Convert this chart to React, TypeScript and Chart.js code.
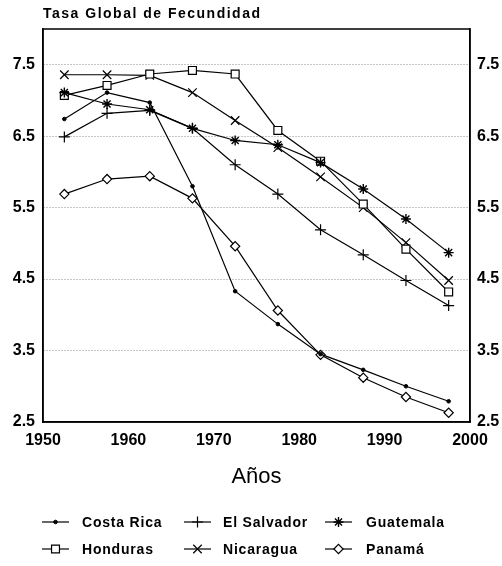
import React, { useEffect, useRef } from 'react';
import { Chart, registerables } from 'chart.js';
import { drawPoint } from 'chart.js/helpers';

Chart.register(...registerables);

const titleText = 'Tasa Global de Fecundidad';
const xTitle = 'Años';
const years = [1952.5, 1957.5, 1962.5, 1967.5, 1972.5, 1977.5, 1982.5, 1987.5, 1992.5, 1997.5];
const costaRica = [6.74, 7.11, 6.97, 5.8, 4.33, 3.87, 3.45, 3.23, 3.0, 2.79];
const elSalvador = [6.49, 6.82, 6.86, 6.61, 6.1, 5.69, 5.19, 4.84, 4.48, 4.13];
const guatemala = [7.11, 6.95, 6.87, 6.61, 6.44, 6.38, 6.13, 5.76, 5.34, 4.87];
const honduras = [7.07, 7.21, 7.37, 7.42, 7.37, 6.58, 6.15, 5.55, 4.92, 4.32];
const nicaragua = [7.36, 7.36, 7.35, 7.11, 6.72, 6.34, 5.93, 5.5, 5.01, 4.48];
const panama = [5.69, 5.9, 5.94, 5.63, 4.96, 4.06, 3.44, 3.12, 2.85, 2.63];
const seriesNames = ['Costa Rica', 'El Salvador', 'Guatemala', 'Honduras', 'Nicaragua', 'Panamá'];
const yTicks = [2.5, 3.5, 4.5, 5.5, 6.5, 7.5];
const xTicks = [1950, 1960, 1970, 1980, 1990, 2000];

const FONT = '"Liberation Sans", Arial, Helvetica, sans-serif';

const styles = [
  { pointStyle: 'circle', radius: 1.8, bg: '#000', bw: 1 },
  { pointStyle: 'cross', radius: 5.5, bg: '#fff', bw: 1.2 },
  { pointStyle: 'star', radius: 5, bg: '#fff', bw: 1.4 },
  { pointStyle: 'rect', radius: 5.6, bg: '#fff', bw: 1.2 },
  { pointStyle: 'crossRot', radius: 6, bg: '#fff', bw: 1.2 },
  { pointStyle: 'rectRot', radius: 4.6, bg: '#fff', bw: 1.2 },
];

const frameAndText = {
  id: 'frameAndText',
  afterDraw(chart: any) {
    const { ctx, chartArea } = chart;
    ctx.save();
    ctx.strokeStyle = '#000';
    ctx.lineWidth = 1.5;
    ctx.strokeRect(chartArea.left, chartArea.top, chartArea.right - chartArea.left, chartArea.bottom - chartArea.top);

    // title
    ctx.fillStyle = '#000';
    ctx.font = `bold 14px ${FONT}`;
    (ctx as any).letterSpacing = '1.5px';
    ctx.textAlign = 'left';
    ctx.textBaseline = 'alphabetic';
    ctx.fillText(titleText, 43, 18);

    // legend
    const colLine = [42, 184, 325];
    const colText = [82, 223, 366];
    const rows = [522, 549];
    (ctx as any).letterSpacing = '0.8px';
    ctx.font = `bold 14px ${FONT}`;
    ctx.textBaseline = 'middle';
    chart.data.datasets.forEach((ds: any, i: number) => {
      const c = i % 3;
      const r = Math.floor(i / 3);
      const y = rows[r];
      ctx.strokeStyle = '#000';
      ctx.lineWidth = 1.2;
      ctx.beginPath();
      ctx.moveTo(colLine[c], y);
      ctx.lineTo(colLine[c] + 27, y);
      ctx.stroke();
      ctx.fillStyle = ds.pointBackgroundColor;
      ctx.lineWidth = ds.pointBorderWidth;
      drawPoint(ctx, { pointStyle: ds.pointStyle, radius: ds.pointRadius, borderWidth: ds.pointBorderWidth, rotation: 0 } as any, colLine[c] + 13.5, y);
      ctx.fillStyle = '#000';
      ctx.fillText(ds.label, colText[c], y + 1);
    });
    ctx.restore();
  },
};

export default function App() {
  const ref = useRef<HTMLCanvasElement>(null);
  useEffect(() => {
    if (!ref.current) return;
    const series = [costaRica, elSalvador, guatemala, honduras, nicaragua, panama];
    const chart = new Chart(ref.current, {
      type: 'line',
      data: {
        datasets: series.map((vals, i) => ({
          label: seriesNames[i],
          data: vals.map((v, j) => ({ x: years[j], y: v })),
          borderColor: '#000',
          borderWidth: 1.2,
          tension: 0,
          fill: false,
          pointStyle: styles[i].pointStyle as any,
          pointRadius: styles[i].radius,
          pointBackgroundColor: styles[i].bg,
          pointBorderColor: '#000',
          pointBorderWidth: styles[i].bw,
          yAxisID: 'y',
        })),
      },
      plugins: [frameAndText],
      options: {
        responsive: false,
        animation: false,
        devicePixelRatio: 1,
        layout: { padding: { top: 29, left: 0, right: 0, bottom: 76 } },
        plugins: { legend: { display: false }, tooltip: { enabled: false }, title: { display: false } },
        scales: {
          x: {
            type: 'linear',
            min: 1950,
            max: 2000,
            afterBuildTicks: (s: any) => { s.ticks = xTicks.map((v) => ({ value: v })); },
            afterFit: (s: any) => { s.height = 68; },
            grid: { display: false, drawTicks: false },
            border: { display: true, color: '#000', width: 1.5 },
            ticks: { color: '#000', padding: 9, font: { family: FONT, size: 16, weight: 'bold' }, maxRotation: 0, callback: (v: any) => String(v) },
            title: { display: true, text: xTitle, color: '#000', padding: { top: 0, bottom: 0 }, font: { family: FONT, size: 22, weight: 'normal' } },
          },
          y: {
            type: 'linear',
            position: 'left',
            min: 2.5,
            max: 8.0,
            afterBuildTicks: (s: any) => { s.ticks = yTicks.map((v) => ({ value: v })); },
            afterFit: (s: any) => { s.width = 43; },
            grid: { display: true, drawTicks: false, color: '#8a8a8a', lineWidth: 1 },
            border: { display: true, color: '#000', width: 1.5, dash: [1, 2] },
            ticks: { color: '#000', padding: 8, font: { family: FONT, size: 16, weight: 'bold' }, callback: (v: any) => Number(v).toFixed(1) },
          },
          y2: {
            type: 'linear',
            position: 'right',
            min: 2.5,
            max: 8.0,
            afterBuildTicks: (s: any) => { s.ticks = yTicks.map((v) => ({ value: v })); },
            afterFit: (s: any) => { s.width = 32; },
            grid: { display: false, drawTicks: false },
            border: { display: true, color: '#000', width: 1.5 },
            ticks: { color: '#000', padding: 7, font: { family: FONT, size: 16, weight: 'bold' }, callback: (v: any) => Number(v).toFixed(1) },
          },
        },
      },
    } as any);
    return () => chart.destroy();
  }, []);
  return (
    <div style={{ position: 'absolute', left: 0, top: 0, width: 502, height: 566, background: '#fff' }}>
      <canvas ref={ref} width={502} height={566} style={{ display: 'block' }} />
    </div>
  );
}
